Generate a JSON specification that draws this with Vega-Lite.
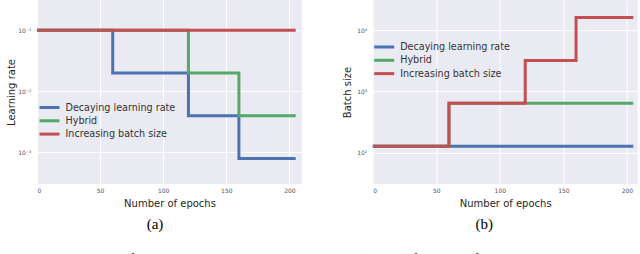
{
  "$schema": "https://vega.github.io/schema/vega-lite/v6.json",
  "autosize": {"type": "pad"},
  "padding": {"left": 6, "top": 0, "right": 0, "bottom": 0},
  "background": "white",
  "datasets": {
    "lr": [
      {"schedule": "Decaying learning rate", "epoch": 0, "value": 0.1},
      {"schedule": "Decaying learning rate", "epoch": 60, "value": 0.02},
      {"schedule": "Decaying learning rate", "epoch": 120, "value": 0.004},
      {"schedule": "Decaying learning rate", "epoch": 160, "value": 0.0008},
      {"schedule": "Decaying learning rate", "epoch": 205, "value": 0.0008},
      {"schedule": "Hybrid", "epoch": 0, "value": 0.1},
      {"schedule": "Hybrid", "epoch": 120, "value": 0.02},
      {"schedule": "Hybrid", "epoch": 160, "value": 0.004},
      {"schedule": "Hybrid", "epoch": 205, "value": 0.004},
      {"schedule": "Increasing batch size", "epoch": 0, "value": 0.1},
      {"schedule": "Increasing batch size", "epoch": 205, "value": 0.1}
    ],
    "bs": [
      {"schedule": "Decaying learning rate", "epoch": 0, "value": 128},
      {"schedule": "Decaying learning rate", "epoch": 205, "value": 128},
      {"schedule": "Hybrid", "epoch": 0, "value": 128},
      {"schedule": "Hybrid", "epoch": 60, "value": 640},
      {"schedule": "Hybrid", "epoch": 205, "value": 640},
      {"schedule": "Increasing batch size", "epoch": 0, "value": 128},
      {"schedule": "Increasing batch size", "epoch": 60, "value": 640},
      {"schedule": "Increasing batch size", "epoch": 120, "value": 3200},
      {"schedule": "Increasing batch size", "epoch": 160, "value": 16000},
      {"schedule": "Increasing batch size", "epoch": 205, "value": 16000}
    ]
  },
  "title": {
    "text": "Figure 1: Schedules for the learning rate (a) and batch size (b), as a function of training epochs. We train",
    "orient": "bottom", "anchor": "start", "frame": "bounds",
    "font": "Liberation Serif", "fontSize": 15, "fontWeight": "normal", "color": "black",
    "offset": 19.5
  },
  "bounds": "flush",
  "spacing": 70.7,
  "resolve": {"legend": {"color": "independent"}},
  "hconcat": [
    {
      "width": 265, "height": 184,
      "data": {"name": "lr"},
      "title": {"text": "(a)", "orient": "bottom", "anchor": "middle", "frame": "group", "dx": -14.5,
        "font": "Liberation Serif", "fontSize": 15, "fontWeight": "normal", "color": "black", "offset": 9},
      "mark": {"type": "line", "interpolate": "step-after", "strokeWidth": 3, "clip": true},
      "encoding": {
        "x": {"field": "epoch", "type": "quantitative",
          "scale": {"domain": [0, 210], "nice": false, "zero": false},
          "axis": {"values": [0, 50, 100, 150, 200], "title": "Number of epochs", "labelPadding": 3, "titlePadding": 5}},
        "y": {"field": "value", "type": "quantitative",
          "scale": {"type": "log", "domain": [0.000305, 0.311], "nice": false},
          "axis": {"values": [0.001, 0.01, 0.1], "title": "Learning rate", "labelPadding": 6, "titleX": -26, "titleBaseline": "middle",
            "labelExpr": "round(log(datum.value)/LN10) == -1 ? '10⁻¹' : round(log(datum.value)/LN10) == -2 ? '10⁻²' : '10⁻³'"}},
        "color": {"field": "schedule", "type": "nominal",
          "scale": {"domain": ["Decaying learning rate", "Hybrid", "Increasing batch size"], "range": ["#4C72B0", "#55A868", "#C44E52"]},
          "legend": {"orient": "none", "legendX": 6, "legendY": 101, "title": null}}
      }
    },
    {
      "width": 265, "height": 184,
      "data": {"name": "bs"},
      "title": {"text": "(b)", "orient": "bottom", "anchor": "middle", "frame": "group", "dx": -21,
        "font": "Liberation Serif", "fontSize": 15, "fontWeight": "normal", "color": "black", "offset": 9},
      "mark": {"type": "line", "interpolate": "step-after", "strokeWidth": 3, "clip": true},
      "encoding": {
        "x": {"field": "epoch", "type": "quantitative",
          "scale": {"domain": [0, 208.5], "nice": false, "zero": false},
          "axis": {"values": [0, 50, 100, 150, 200], "title": "Number of epochs", "labelPadding": 3, "titlePadding": 5}},
        "y": {"field": "value", "type": "quantitative",
          "scale": {"type": "log", "domain": [31, 31000], "nice": false},
          "axis": {"values": [100, 1000, 10000], "title": "Batch size", "labelPadding": 6, "titleX": -25, "titleBaseline": "middle",
            "labelExpr": "round(log(datum.value)/LN10) == 2 ? '10²' : round(log(datum.value)/LN10) == 3 ? '10³' : '10⁴'"}},
        "color": {"field": "schedule", "type": "nominal",
          "scale": {"domain": ["Decaying learning rate", "Hybrid", "Increasing batch size"], "range": ["#4C72B0", "#55A868", "#C44E52"]},
          "legend": {"orient": "none", "legendX": 5, "legendY": 40.5, "title": null}}
      }
    }
  ],
  "config": {
    "view": {"fill": "#EAEAF2", "stroke": null},
    "axis": {"grid": true, "gridColor": "white", "gridWidth": 1, "domain": false, "ticks": false,
      "labelFont": "DejaVu Sans", "labelFontSize": 6, "labelColor": "#555555",
      "titleFont": "DejaVu Sans", "titleFontSize": 10, "titleFontWeight": "normal", "titleColor": "#262626"},
    "legend": {"symbolType": "M-2,0H2", "symbolSize": 100, "symbolStrokeWidth": 3, "labelFont": "DejaVu Sans",
      "labelFontSize": 9.6, "labelColor": "#333333", "labelOffset": 9.5, "rowPadding": 0.3}
  }
}
